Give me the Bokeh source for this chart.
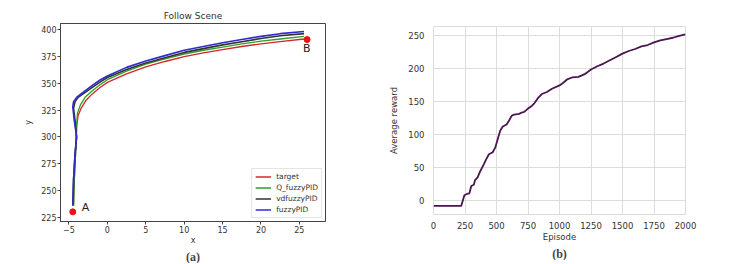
from bokeh.plotting import figure
from bokeh.layouts import row, column
from bokeh.models import Title, Range1d, Legend, LegendItem, FixedTicker, Label
from bokeh.embed import file_html
from bokeh.resources import INLINE

# ---------- data: panel (a) ----------
target_x = [-4.4, -4.3, -4.1, -4.0, -3.8, -3.4, -2.8, -2.0, -1.0, 0.0, 2.5, 5.0, 7.5, 10.0, 12.5, 15.0, 17.5, 20.0, 22.5, 25.6]
target_y = [236, 260, 290, 310, 320, 327, 334, 340, 346, 351, 359, 365.5, 370.5, 375, 378.5, 381.5, 384.5, 387, 389, 391.5]

qf_x = [-4.4, -4.3, -4.1, -4.0, -3.9, -3.5, -2.9, -2.0, -1.0, 0.0, 2.5, 5.0, 7.5, 10.0, 12.5, 15.0, 17.5, 20.0, 22.5, 25.6]
qf_y = [236, 260, 290, 310, 322, 330, 337, 343, 348.5, 353.5, 361.5, 368, 373, 377.5, 381, 384, 387, 389.5, 391.5, 394]

vd_x = [-4.5, -4.4, -4.2, -4.0, -4.2, -4.4, -4.2, -3.8, -3.2, -2.0, -1.0, 0.0, 2.5, 5.0, 7.5, 10.0, 12.5, 15.0, 17.5, 20.0, 22.5, 25.6]
vd_y = [236, 260, 285, 300, 315, 327, 333, 337, 340, 346, 351, 355.5, 363, 369, 374, 379, 382.5, 386, 389, 392, 394.5, 396.5]

fz_x = [-4.5, -4.4, -4.2, -4.0, -4.3, -4.5, -4.4, -4.0, -3.3, -2.0, -1.0, 0.0, 2.5, 5.0, 7.5, 10.0, 12.5, 15.0, 17.5, 20.0, 22.5, 25.6]
fz_y = [236, 260, 285, 300, 315, 328, 333, 337, 341, 348, 353, 357, 365, 371, 376, 381, 384.5, 388, 391, 394, 396.5, 398.5]

point_x = [-4.5, 26.0]
point_y = [230, 391]
point_names = ["A", "B"]

xticks_a = [-5, 0, 5, 10, 15, 20, 25]
yticks_a = [225, 250, 275, 300, 325, 350, 375, 400]

# ---------- data: panel (b) ----------
episode = [0, 220, 245, 265, 285, 300, 320, 330, 350, 370, 400, 420, 440, 470, 490, 510, 530, 550,
           580, 600, 620, 640, 680, 700, 720, 750, 780, 800, 830, 860, 900, 940, 1000, 1030, 1060,
           1100, 1150, 1200, 1250, 1300, 1350, 1400, 1450, 1500, 1550, 1600, 1650, 1700, 1750,
           1800, 1850, 1900, 1950, 2000]
reward = [-8, -8, 8, 10, 11, 22, 24, 31, 35, 44, 55, 63, 70, 73, 80, 93, 106, 112,
          115, 121, 128, 130, 131, 133, 134, 139, 143, 147, 155, 161, 164, 169, 174, 178, 183,
          186, 187, 191, 198, 203, 207, 212, 217, 222, 226, 229, 233, 235, 239,
          242, 244, 246, 249, 251]
xticks_b = [0, 250, 500, 750, 1000, 1250, 1500, 1750, 2000]
yticks_b = [0, 50, 100, 150, 200, 250]

FONT = "DejaVu Sans"

# ---------- panel (a) ----------
p1 = figure(output_backend="svg", toolbar_location=None,
            frame_width=265, frame_height=198,
            min_border_left=60, min_border_right=45, min_border_top=23, min_border_bottom=38,
            x_range=Range1d(-6.1, 28.4), y_range=Range1d(221, 406),
            title="Follow Scene")
p1.title.text_font = FONT
p1.title.text_font_size = "9px"
p1.title.text_font_style = "normal"
p1.title.align = "center"
p1.title.text_color = "#333333"
p1.title.offset = 0
p1.title.standoff = 5
p1.grid.visible = False
p1.outline_line_color = "#444444"
p1.background_fill_color = "white"

l_t = p1.line(target_x, target_y, color="#d62728", line_width=1.3)
l_q = p1.line(qf_x, qf_y, color="#2ca02c", line_width=1.3)
l_v = p1.line(vd_x, vd_y, color="#333333", line_width=1.6)
l_f = p1.line(fz_x, fz_y, color="#2c2ccc", line_width=1.6)
p1.scatter(point_x, point_y, size=6, color="#ee1111")

p1.add_layout(Label(x=point_x[0], y=point_y[0], text=point_names[0], x_offset=9, y_offset=-2,
                    text_font=FONT, text_font_size="11px", text_color="#222222"))
p1.add_layout(Label(x=point_x[1], y=point_y[1], text=point_names[1], x_offset=-4, y_offset=-15,
                    text_font=FONT, text_font_size="11px", text_color="#222222"))

legend = Legend(items=[LegendItem(label="target", renderers=[l_t]),
                       LegendItem(label="Q_fuzzyPID", renderers=[l_q]),
                       LegendItem(label="vdfuzzyPID", renderers=[l_v]),
                       LegendItem(label="fuzzyPID", renderers=[l_f])],
                location="bottom_right")
legend.label_text_font = FONT
legend.label_text_font_size = "7.5px"
legend.label_text_color = "#333333"
legend.glyph_width = 16
legend.glyph_height = 9
legend.label_height = 9
legend.spacing = 2
legend.padding = 3
legend.margin = 3
legend.label_standoff = 5
legend.border_line_color = "#cccccc"
legend.background_fill_alpha = 1.0
p1.add_layout(legend)

for ax in (p1.xaxis, p1.yaxis):
    ax.major_label_text_font = FONT
    ax.major_label_text_font_size = "8px"
    ax.major_label_text_color = "#333333"
    ax.axis_label_text_font = FONT
    ax.axis_label_text_font_size = "8px"
    ax.axis_label_text_font_style = "normal"
    ax.axis_label_text_color = "#333333"
    ax.minor_tick_line_color = None
    ax.major_tick_out = 3
    ax.major_tick_in = 0
    ax.axis_line_color = "#444444"
    ax.major_tick_line_color = "#444444"
    ax.axis_label_standoff = 0
    ax.major_label_standoff = 1
p1.xaxis.ticker = FixedTicker(ticks=xticks_a)
p1.yaxis.ticker = FixedTicker(ticks=yticks_a)
p1.xaxis.axis_label = "x"
p1.yaxis.axis_label = "y"
p1.yaxis.axis_label_standoff = 5
p1.yaxis.major_label_orientation = "horizontal"

t1 = Title(text="(a)", align="center", text_font="Liberation Serif", text_font_size="12px",
           text_font_style="bold", standoff=0, offset=0)
p1.add_layout(t1, "below")

# ---------- panel (b) ----------
p2 = figure(output_backend="svg", toolbar_location=None,
            frame_width=252, frame_height=188,
            min_border_left=63, min_border_right=52, min_border_top=26, min_border_bottom=44,
            x_range=Range1d(0, 2000), y_range=Range1d(-21, 263))
p2.outline_line_color = "#dddddd"
p2.grid.grid_line_color = "#dddddd"
p2.grid.grid_line_width = 1
p2.line(episode, reward, color="#4a1550", line_width=1.8)

for ax in (p2.xaxis, p2.yaxis):
    ax.major_label_text_font = FONT
    ax.major_label_text_font_size = "8.5px"
    ax.major_label_text_color = "#333333"
    ax.axis_label_text_font = FONT
    ax.axis_label_text_font_size = "8.5px"
    ax.axis_label_text_font_style = "normal"
    ax.axis_label_text_color = "#333333"
    ax.minor_tick_line_color = None
    ax.major_tick_line_color = None
    ax.axis_line_color = None
    ax.axis_label_standoff = 0
    ax.major_label_standoff = 1
p2.xaxis.ticker = FixedTicker(ticks=xticks_b)
p2.yaxis.ticker = FixedTicker(ticks=yticks_b)
p2.xaxis.axis_label = "Episode"
p2.yaxis.axis_label = "Average reward"
p2.yaxis.axis_label_standoff = 6
p2.yaxis.major_label_standoff = 3

t2 = Title(text="(b)", align="center", text_font="Liberation Serif", text_font_size="12px",
           text_font_style="bold", standoff=0, offset=0)
p2.add_layout(t2, "below")

layout = row(column(p1), column(p2), spacing=0)
open("out.html", "w").write(file_html(layout, INLINE))
